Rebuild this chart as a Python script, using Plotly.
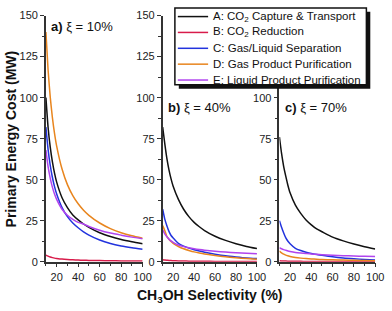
import plotly.graph_objects as go

# CH3OH selectivity (%) sample points
x_sel = [10, 12, 14, 16, 18, 20, 25, 30, 35, 40, 45, 50, 60, 70, 80, 90, 100]

series_names = [
    "A: CO<sub>2</sub> Capture & Transport",
    "B: CO<sub>2</sub> Reduction",
    "C: Gas/Liquid Separation",
    "D: Gas Product Purification",
    "E: Liquid Product Purification",
]
series_colors = ["#111111", "#d81b4a", "#2233dd", "#e8851e", "#b044ee"]

# panel a) xi = 10 %
a_A = [100, 82, 70, 61, 54, 48.5, 39, 33, 28.5, 25.5, 23, 21, 17.7, 15.4, 13.6, 12.2, 11]
a_B = [4, 3.4, 2.9, 2.5, 2.2, 2, 1.6, 1.35, 1.15, 1, 0.9, 0.8, 0.7, 0.6, 0.5, 0.45, 0.4]
a_C = [82, 68.5, 58.8, 51.5, 45.8, 41.3, 33, 27.5, 23.6, 20.7, 18.2, 16.2, 13.2, 11.1, 9.6, 8.5, 7.6]
a_D = [140, 117, 100.5, 88, 78.3, 70.5, 56.5, 47, 40.3, 35.3, 31.4, 28.3, 23.6, 20.2, 17.7, 15.8, 14.3]
a_E = [68, 58, 51, 45.5, 41.3, 38, 32, 28.3, 25.8, 24, 23, 21.5, 19.2, 17.5, 16.2, 15, 14]

# panel b) xi = 40 %
b_A = [82, 72, 63, 56, 50.5, 46, 38, 32, 27.5, 24, 21.3, 19, 15.5, 13, 11, 9.3, 8]
b_B = [1.2, 1.0, 0.9, 0.8, 0.7, 0.62, 0.5, 0.42, 0.36, 0.32, 0.28, 0.25, 0.21, 0.18, 0.16, 0.14, 0.13]
b_C = [32, 26, 22, 18.5, 16, 14.5, 11.2, 9.5, 8.3, 7.3, 6.5, 5.8, 4.6, 3.6, 2.9, 2.3, 1.9]
b_D = [22, 19, 15.5, 13.7, 12.3, 11.2, 9.3, 7.9, 6.9, 6, 5.3, 4.7, 3.8, 3, 2.4, 1.9, 1.5]
b_E = [19.5, 17, 15.2, 13.8, 12.7, 11.8, 10.2, 9.2, 8.5, 7.9, 7.4, 7, 6.4, 5.9, 5.5, 5.1, 4.8]

# panel c) xi = 70 %
c_A = [76, 66, 58, 52, 46.5, 42, 34.5, 29.5, 25.5, 22.5, 20, 18.3, 15, 12.7, 10.8, 9.2, 7.8]
c_B = [0.6, 0.5, 0.45, 0.4, 0.36, 0.33, 0.27, 0.23, 0.2, 0.18, 0.16, 0.15, 0.13, 0.12, 0.11, 0.1, 0.1]
c_C = [25, 21, 17.5, 14.5, 12.5, 11, 8.2, 6.8, 5.8, 5, 4.4, 3.9, 3, 2.3, 1.8, 1.4, 1.1]
c_D = [6.5, 5.4, 4.6, 4, 3.6, 3.2, 2.6, 2.2, 1.9, 1.7, 1.5, 1.35, 1.15, 1, 0.85, 0.75, 0.65]
c_E = [8.5, 7.9, 7.4, 7, 6.6, 6.3, 5.7, 5.3, 5, 4.7, 4.5, 4.3, 4, 3.7, 3.5, 3.3, 3.2]

panels = [
    ("x", "y", [a_A, a_B, a_C, a_D, a_E]),
    ("x2", "y2", [b_A, b_B, b_C, b_D, b_E]),
    ("x3", "y3", [c_A, c_B, c_C, c_D, c_E]),
]
panel_labels = ["<b>a)</b> ξ = 10%", "<b>b)</b> ξ = 40%", "<b>c)</b> ξ = 70%"]

y_ticks = [0, 25, 50, 75, 100, 125, 150]
y_ticks_c = [0, 25, 50, 75, 100]  # upper ticks of panel c sit behind the key
x_ticks = [20, 40, 60, 80, 100]

W, H = 392, 311
FONT = "Liberation Sans, Arial, sans-serif"

fig = go.Figure()
for pi, (xa, ya, data) in enumerate(panels):
    for si, vals in enumerate(data):
        fig.add_trace(go.Scatter(
            x=x_sel, y=vals, mode="lines", xaxis=xa, yaxis=ya,
            name=series_names[si], legendgroup=str(si), showlegend=False,
            line=dict(color=series_colors[si], width=1.5, shape="spline", smoothing=0.6),
        ))

def px_x(p):
    return p / W

def px_y(p):
    return 1 - p / H

x_domains = [(47, 146), (166.5, 263), (286, 384)]
y_dom = [px_y(266), px_y(10)]

axis_common = dict(
    showline=True, linecolor="#333333", linewidth=1.5,
    ticks="outside", ticklen=4, tickwidth=1, tickcolor="#333333",
    showgrid=False, zeroline=False,
    tickfont=dict(family=FONT, size=11, color="#222222"),
)
layout = dict()
for i, (x0, x1) in enumerate(x_domains):
    sfx = "" if i == 0 else str(i + 1)
    yt = y_ticks_c if i == 2 else y_ticks
    layout["xaxis" + sfx] = dict(
        domain=[px_x(x0), px_x(x1)], range=[10, 100], anchor="y" + sfx,
        tickvals=x_ticks, ticktext=[str(v) for v in x_ticks],
        minor=dict(tickvals=[10, 30, 50, 70, 90], ticks="outside", ticklen=2.5, tickcolor="#333333"),
        **axis_common,
    )
    layout["yaxis" + sfx] = dict(
        domain=y_dom, range=[0, 150], anchor="x" + sfx,
        tickvals=yt, ticktext=[str(v) for v in yt],
        minor=dict(tickvals=[12.5, 37.5, 62.5, 87.5, 112.5, 137.5], ticks="outside", ticklen=2.5, tickcolor="#333333"),
        **axis_common,
    )

fig.update_layout(**layout)

annotations = []
label_pos = [(50, 21), (170, 106), (290, 106)]
for lab, (lx, ly) in zip(panel_labels, label_pos):
    annotations.append(dict(
        text=lab, x=px_x(lx), y=px_y(ly), xref="paper", yref="paper",
        xanchor="left", yanchor="middle", showarrow=False,
        font=dict(family=FONT, size=13, color="#111111"),
    ))
annotations.append(dict(
    text="<b>Primary Energy Cost (MW)</b>", x=px_x(11), y=px_y(138), xref="paper", yref="paper",
    textangle=-90, showarrow=False, xanchor="center", yanchor="middle",
    font=dict(family=FONT, size=14, color="#111111"),
))
annotations.append(dict(
    text="<b>CH<sub>3</sub>OH Selectivity (%)</b>", x=px_x(215), y=px_y(302), xref="paper", yref="paper",
    showarrow=False, xanchor="center", yanchor="middle",
    font=dict(family=FONT, size=14, color="#111111"),
))

# legend box (with drop shadow), drawn to match the original's compact key
box_l, box_r, box_t, box_b = 179, 375, 2, 82
shapes = [
    dict(type="rect", xref="paper", yref="paper", layer="above",
         x0=px_x(box_l + 4), x1=px_x(box_r + 4), y0=px_y(box_b + 4), y1=px_y(box_t + 4),
         fillcolor="#111111", line=dict(width=0)),
    dict(type="rect", xref="paper", yref="paper", layer="above",
         x0=px_x(box_l), x1=px_x(box_r), y0=px_y(box_b), y1=px_y(box_t),
         fillcolor="white", line=dict(color="#111111", width=1.5)),
]
row_y = [11, 27.5, 44, 60.5, 77]
for si, ry in enumerate(row_y):
    shapes.append(dict(type="line", xref="paper", yref="paper", layer="above",
                       x0=px_x(182), x1=px_x(213), y0=px_y(ry), y1=px_y(ry),
                       line=dict(color=series_colors[si], width=1.5)))
    annotations.append(dict(
        text=series_names[si], x=px_x(216), y=px_y(ry), xref="paper", yref="paper",
        xanchor="left", yanchor="middle", showarrow=False,
        font=dict(family=FONT, size=11.5, color="#111111"),
    ))

fig.update_layout(
    width=W, height=H,
    margin=dict(l=0, r=0, t=0, b=0),
    paper_bgcolor="white", plot_bgcolor="white",
    annotations=annotations,
    shapes=shapes,
    showlegend=False,
)

# the page's default 8px body margin would shift the figure; remove it
fig.write_html("out.html", config={"displayModeBar": False},
               post_script="document.body.style.margin='0';")
